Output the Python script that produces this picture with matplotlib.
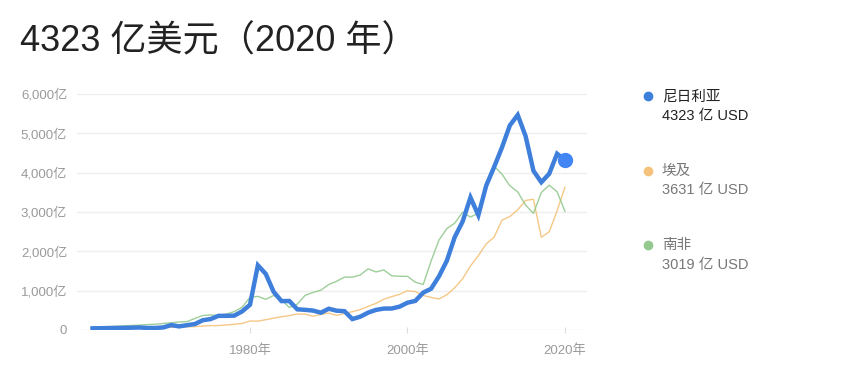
import matplotlib.pyplot as plt
from matplotlib.lines import Line2D

plt.rcParams['font.family'] = ['Liberation Sans', 'Noto Sans CJK SC', 'DejaVu Sans']

years = list(range(1960, 2021))

# GDP in 亿美元
nigeria = [42, 45, 49, 52, 55, 59, 64, 52, 52, 66,
           125, 92, 123, 152, 248, 278, 360, 360, 365, 473,
           642, 1645, 1428, 971, 735, 737, 526, 513, 494, 440,
           540, 491, 478, 278, 338, 441, 511, 545, 546, 594,
           694, 740, 951, 1049, 1364, 1761, 2361, 2756, 3370, 2919,
           3670, 4141, 4640, 5201, 5467, 4930, 4047, 3757, 3972, 4481,
           4323]

egypt_years = list(range(1965, 2021))
egypt = [51, 56, 56, 59, 66,
         69, 74, 80, 86, 102, 112, 114, 129, 143, 166,
         229, 226, 261, 301, 337, 366, 405, 404, 350, 396,
         431, 370, 419, 466, 519, 602, 676, 784, 848, 907,
         998, 976, 879, 829, 788, 897, 1075, 1304, 1628, 1890,
         2189, 2360, 2791, 2884, 3056, 3294, 3324, 2357, 2497, 3031,
         3631]

south_africa = [76, 80, 85, 94, 104, 115, 125, 139, 148, 166,
                184, 203, 214, 293, 368, 384, 366, 406, 467, 578,
                830, 855, 779, 878, 767, 573, 656, 880, 955, 1012,
                1156, 1239, 1345, 1343, 1398, 1555, 1476, 1526, 1378, 1366,
                1364, 1215, 1157, 1753, 2286, 2578, 2716, 2994, 2871, 2972,
                3753, 4164, 3963, 3668, 3511, 3176, 2964, 3496, 3683, 3514,
                3019]

names = ['尼日利亚', '埃及', '南非']
latest = ['4323 亿 USD', '3631 亿 USD', '3019 亿 USD']
colors = ['#3f7fdc', '#f4c27a', '#93c98f']

W, H = 861, 367
fig = plt.figure(figsize=(W / 100, H / 100), dpi=100)
ax = fig.add_axes([77 / W, (H - 330) / H, (587 - 77) / W, (330 - 94) / H])

ax.plot(egypt_years, egypt, color=colors[1], lw=1.0, alpha=0.9, zorder=2)
ax.plot(years, south_africa, color=colors[2], lw=1.0, alpha=0.9, zorder=2)
ax.plot(years, nigeria, color=colors[0], lw=3.2, solid_joinstyle='miter', zorder=3)
ax.plot(years[-1], nigeria[-1], 'o', color='#4285f4', ms=10, zorder=4)

ax.set_xlim(1958.03, 2022.8)
ax.set_ylim(0, 6000)

yt = [0, 1000, 2000, 3000, 4000, 5000, 6000]
ax.set_yticks(yt)
ax.set_yticklabels(['0'] + [f'{v:,}亿' for v in yt[1:]])
ax.set_xticks([1980, 2000, 2020])
ax.set_xticklabels(['1980年', '2000年', '2020年'])
ax.grid(axis='y', color='#eeeeee', lw=1)
ax.set_axisbelow(True)
for s in ax.spines.values():
    s.set_visible(False)
ax.tick_params(axis='y', length=0, pad=7, labelsize=9.5, labelcolor='#9a9a9a')
ax.tick_params(axis='x', length=5, direction='inout', color='#dddddd',
               pad=8, labelsize=9.5, labelcolor='#9a9a9a')

fig.text(20 / W, 1 - 42 / H, '4323 亿美元（2020 年）', fontsize=26,
         color='#222222', va='center', ha='left')

# legend on the right
for i, (n, v) in enumerate(zip(names, latest)):
    y = 96 + i * 74.5
    tc = '#222222' if i == 0 else '#777777'
    fig.add_artist(Line2D([648 / W], [1 - y / H], marker='o', ms=6,
                          color=colors[i], transform=fig.transFigure))
    fig.text(662 / W, 1 - y / H, n, color=tc, fontsize=10.5, va='center')
    fig.text(662 / W, 1 - (y + 20) / H, v, color=tc, fontsize=10.5, va='center')

fig.savefig('out.png', dpi=100)
